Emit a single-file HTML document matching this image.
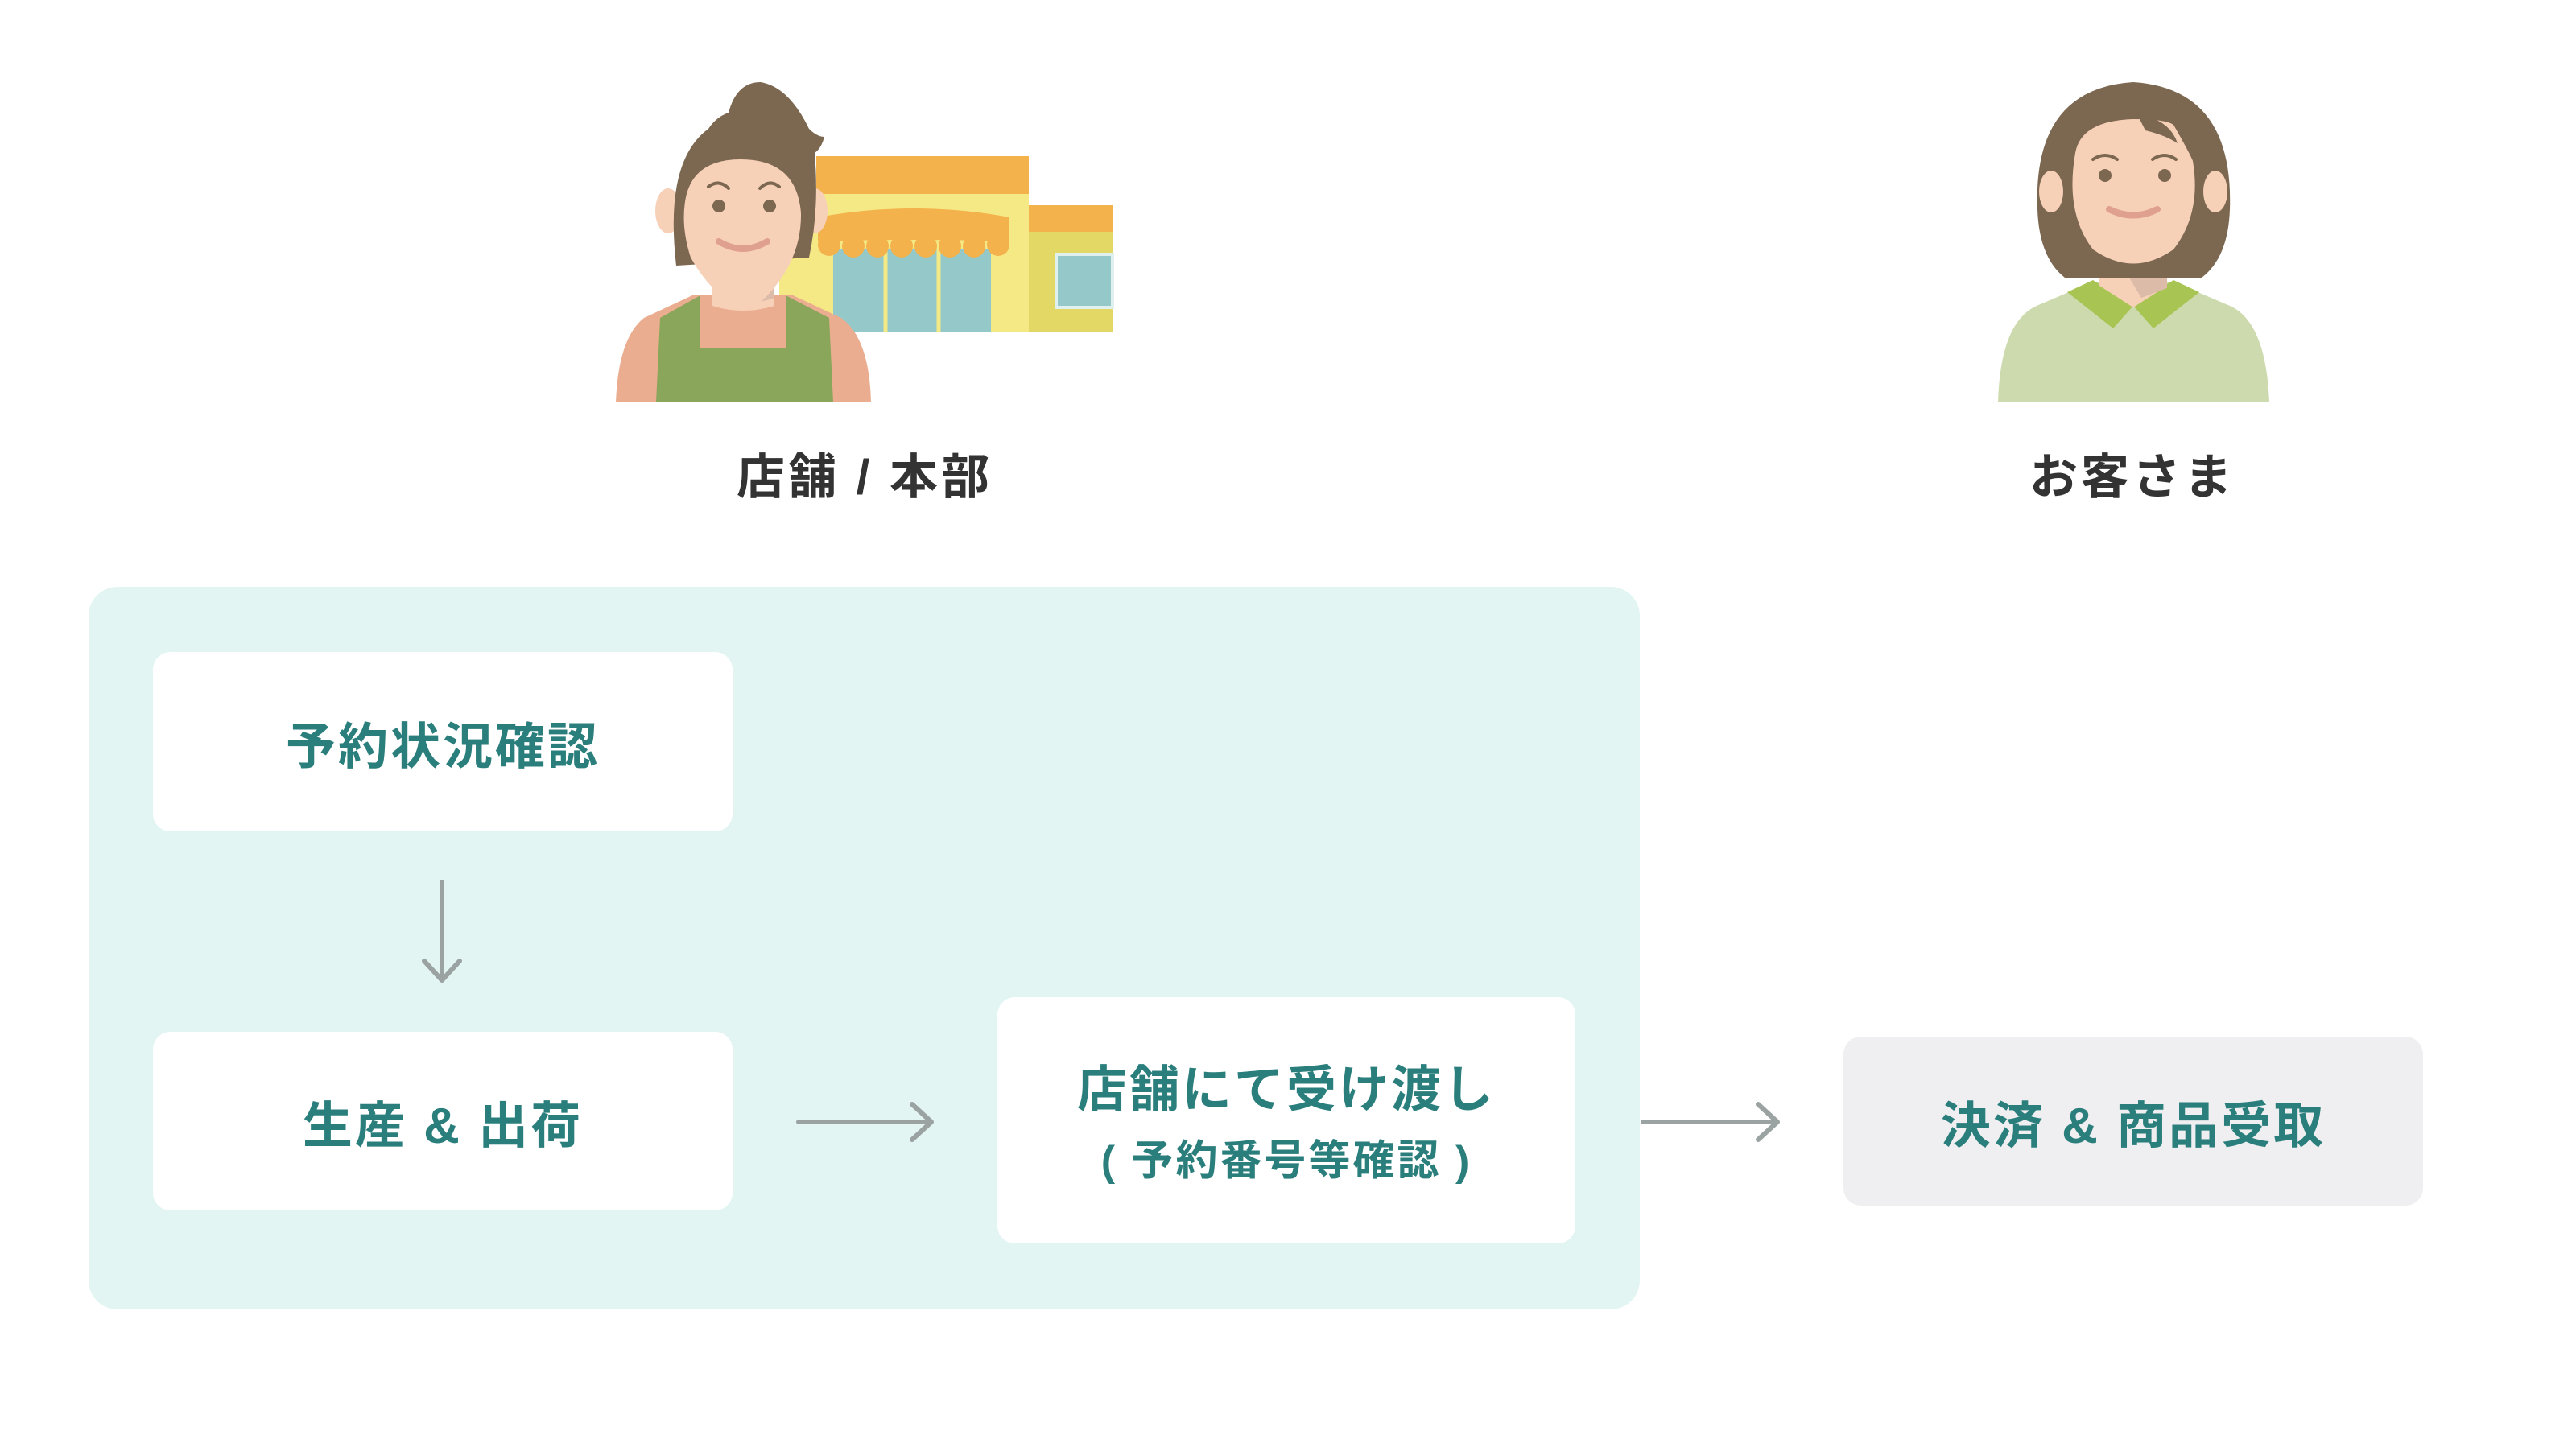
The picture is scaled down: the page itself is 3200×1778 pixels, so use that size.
<!DOCTYPE html>
<html><head><meta charset="utf-8"><style>
html,body{margin:0;padding:0;background:#fff;}
body{width:3200px;height:1778px;position:relative;overflow:hidden;font-family:"Liberation Sans","Noto Sans CJK JP",sans-serif;}
.panel{position:absolute;left:110px;top:729px;width:1927px;height:898px;background:#e3f5f3;border-radius:36px;}
.box{position:absolute;background:#fff;border-radius:22px;display:flex;flex-direction:column;align-items:center;justify-content:center;color:#2a7f7c;font-weight:bold;font-size:62px;letter-spacing:3px;}
.lbl{position:absolute;color:#333;font-weight:bold;font-size:60px;letter-spacing:4px;transform:translate(-50%,-50%);white-space:nowrap;}
</style></head><body>
<div class="panel"></div>
<div class="box" style="left:190px;top:810px;width:720px;height:223px;">予約状況確認</div>
<div class="box" style="left:190px;top:1282px;width:720px;height:222px;">生産 &amp; 出荷</div>
<div class="box" style="left:1239px;top:1239px;width:718px;height:306px;"><div style="line-height:88px;margin-top:14px">店舗にて受け渡し</div><div style="font-size:52px;line-height:88px">( 予約番号等確認 )</div></div>
<div class="box" style="left:2290px;top:1288px;width:720px;height:210px;background:#efeef0;">決済 &amp; 商品受取</div>
<div class="lbl" style="left:1074px;top:588px;">店舗 / 本部</div>
<div class="lbl" style="left:2649px;top:588px;">お客さま</div>
<svg width="3200" height="1778" style="position:absolute;left:0;top:0" xmlns="http://www.w3.org/2000/svg">
<g stroke="#9aa3a2" stroke-width="6" fill="none" stroke-linecap="round" stroke-linejoin="round">
<path d="M549 1096V1216M527 1194L549 1218L571 1194"/>
<path d="M992 1394H1155M1133 1372L1157 1394L1133 1416"/>
<path d="M2041 1394H2206M2184 1372L2208 1394L2184 1416"/>
</g>
<!-- store -->
<rect x="968" y="241" width="310" height="171" fill="#f5e985"/>
<rect x="1014" y="194" width="264" height="47" fill="#f3b24b"/>
<rect x="1278" y="255" width="104" height="33" fill="#f3b24b"/>
<rect x="1278" y="288" width="104" height="124" fill="#e3d765"/>
<rect x="1312" y="316" width="70" height="66" fill="#94c8c9" stroke="#dff0ef" stroke-width="4"/>
<rect x="1035" y="310" width="196" height="102" fill="#94c8c9"/>
<path d="M1100 310V412M1166 310V412" stroke="#f5e985" stroke-width="5"/>
<path d="M1016 270Q1135 248 1254 270V300Q1135 296 1016 300Z" fill="#f3b24b"/>
<g fill="#f3b24b"><circle cx="1030" cy="304" r="14"/><circle cx="1060" cy="306" r="14"/><circle cx="1090" cy="306" r="14"/><circle cx="1120" cy="306" r="14"/><circle cx="1150" cy="306" r="14"/><circle cx="1180" cy="306" r="14"/><circle cx="1210" cy="306" r="14"/><circle cx="1240" cy="304" r="14"/></g>
<!-- woman 1 -->
<path d="M765 500Q768 420 800 395L860 367H985L1045 395Q1080 420 1082 500Z" fill="#ebad90"/>
<path d="M815 500L820 395L870 367V433H976V367L1030 395L1035 500Z" fill="#89a65a"/>
<rect x="870" y="367" width="106" height="66" fill="#ebad90"/>
<path d="M885 320H962V380Q923 392 885 380Z" fill="#f7d0b8"/>
<path d="M900 340Q935 375 962 345V370Q935 380 915 372Z" fill="#dcbba9"/>
<ellipse cx="830" cy="262" rx="16" ry="28" fill="#f7d0b8"/>
<ellipse cx="1012" cy="262" rx="16" ry="28" fill="#f7d0b8"/>
<path d="M840 330Q825 200 880 160Q890 145 905 140Q915 102 945 102Q980 108 1005 160Q1015 170 1024 170Q1020 185 1012 190Q1018 260 1005 320Z" fill="#7c6750"/>
<path d="M920 198Q990 198 995 265Q996 330 940 380Q895 385 858 320Q845 280 852 245Q862 198 920 198Z" fill="#f7d0b8"/>
<circle cx="893" cy="256" r="8" fill="#7c6750"/><circle cx="956" cy="256" r="8" fill="#7c6750"/>
<path d="M880 232Q893 222 905 234M944 234Q956 222 968 232" stroke="#7c6750" stroke-width="4" fill="none" stroke-linecap="round"/>
<path d="M893 300Q923 318 953 300" stroke="#e0a090" stroke-width="8" fill="none" stroke-linecap="round"/>
<!-- customer -->
<path d="M2482 500Q2485 400 2530 380L2600 350H2700L2770 380Q2815 400 2819 500Z" fill="#cddaae"/>
<path d="M2568 363L2600 348L2650 380L2625 408Z M2732 363L2700 348L2650 380L2675 408Z" fill="#a8c452"/>
<path d="M2608 320H2692V355L2650 382L2608 355Z" fill="#f7d0b8"/>
<path d="M2630 320Q2650 350 2692 345V358L2660 370Z" fill="#dcbba9"/>
<path d="M2531 260Q2525 110 2650 102Q2775 110 2770 260Q2768 320 2735 345H2565Q2533 320 2531 260Z" fill="#7c6750"/>
<ellipse cx="2548" cy="238" rx="15" ry="26" fill="#f7d0b8"/>
<ellipse cx="2752" cy="238" rx="15" ry="26" fill="#f7d0b8"/>
<path d="M2578 190Q2585 150 2650 148Q2690 148 2700 155Q2720 190 2724 200Q2735 265 2700 310Q2650 345 2600 310Q2565 265 2578 190Z" fill="#f7d0b8"/>
<path d="M2655 142Q2695 148 2705 178Q2690 168 2665 162Z" fill="#7c6750"/>
<circle cx="2615" cy="218" r="8" fill="#7c6750"/><circle cx="2689" cy="218" r="8" fill="#7c6750"/>
<path d="M2600 198Q2615 188 2630 198M2674 198Q2689 188 2703 198" stroke="#7c6750" stroke-width="4" fill="none" stroke-linecap="round"/>
<path d="M2620 260Q2650 275 2680 260" stroke="#e0a090" stroke-width="8" fill="none" stroke-linecap="round"/>
</svg>
</body></html>
